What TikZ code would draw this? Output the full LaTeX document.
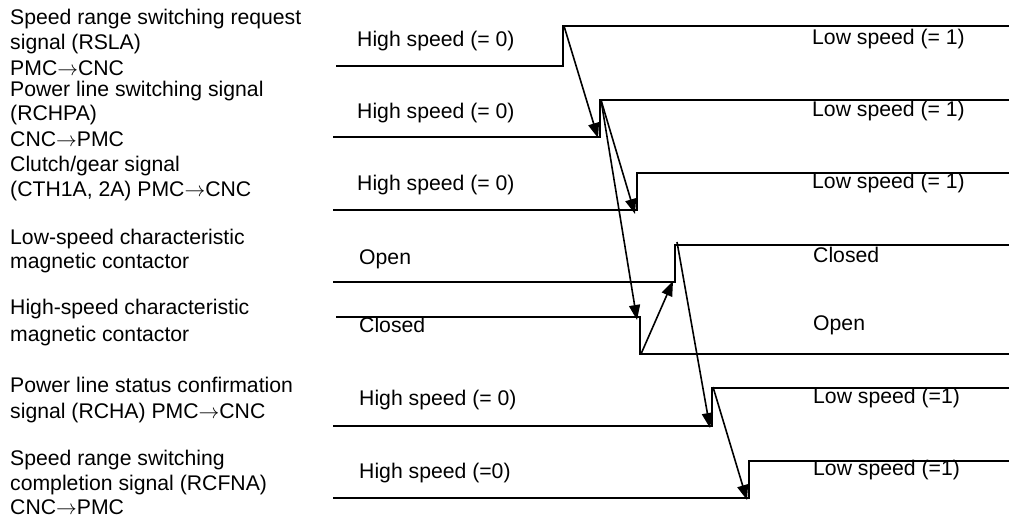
\documentclass[tikz,border=0pt]{standalone}
\usepackage{fontspec}
\setmainfont{Liberation Sans}
\usetikzlibrary{arrows.meta}
\newcommand{\dirarrow}{\ensuremath{\rightarrow}}
\begin{document}
\begin{tikzpicture}[x=1pt,y=-1pt,
  wave/.style={line width=2pt,line join=miter},
  cause/.style={line width=1.6pt,-{Triangle[length=15pt,width=11pt]}},
  txt/.style={anchor=base west,inner sep=0pt,font=\fontsize{21.2}{25}\selectfont}]
\useasboundingbox (0,0) rectangle (1009,518);
% waveform corners
\coordinate (b1) at (563,66); \coordinate (t1) at (563,26);
\coordinate (b2) at (600,137); \coordinate (t2) at (600,100);
\coordinate (b3) at (637,210); \coordinate (t3) at (637,173);
\coordinate (b4) at (675,282); \coordinate (t4) at (675,245);
\coordinate (h5) at (640,317); \coordinate (l5) at (640,354);
\coordinate (b6) at (712,426); \coordinate (t6) at (712,388);
\coordinate (b7) at (749,498); \coordinate (t7) at (749,461);
% waveforms
\draw[wave] (336,66) -- (b1) -- (t1) -- (1009,26);
\draw[wave] (333,137) -- (b2) -- (t2) -- (1009,100);
\draw[wave] (333,210) -- (b3) -- (t3) -- (1009,173);
\draw[wave] (333,282) -- (b4) -- (t4) -- (1009,245);
\draw[wave] (336,317) -- (h5) -- (l5) -- (1009,354);
\draw[wave] (333,426) -- (b6) -- (t6) -- (1009,388);
\draw[wave] (333,498) -- (b7) -- (t7) -- (1009,461);
% causal arrows
\draw[cause] ([xshift=1pt]t1) -- ([xshift=-2pt,yshift=-1pt]b2);
\draw[cause] ([xshift=1pt]t2) -- ([xshift=-2pt,yshift=-4pt]b3);
\draw[cause] ([xshift=1pt]t2) -- ([xshift=-3pt,yshift=-3pt]h5);
\draw[cause] ([xshift=1pt]l5) -- ([xshift=-2pt,yshift=1pt]b4);
\draw[cause] ([xshift=2pt,yshift=3pt]t4) -- ([xshift=-2pt,yshift=-2pt]b6);
\draw[cause] ([xshift=1pt,yshift=1pt]t6) -- ([xshift=-2pt,yshift=-2pt]b7);
% left signal names
\node[txt] (n1a) at (10,25) {Speed range switching request};
\node[txt] (n1b) at (10,50) {signal (RSLA)};
\node[txt] (n1c) at (10,76) {PMC\dirarrow CNC};
\node[txt] (n2a) at (10,97) {Power line switching signal};
\node[txt] (n2b) at (10,121) {(RCHPA)};
\node[txt] (n2c) at (10,147) {CNC\dirarrow PMC};
\node[txt] (n3a) at (10,172) {Clutch/gear signal};
\node[txt] (n3b) at (10,197) {(CTH1A, 2A) PMC\dirarrow CNC};
\node[txt] (n4a) at (10,245) {Low-speed characteristic};
\node[txt] (n4b) at (10,269) {magnetic contactor};
\node[txt] (n5a) at (10,315) {High-speed characteristic};
\node[txt] (n5b) at (10,342) {magnetic contactor};
\node[txt] (n6a) at (10,392) {Power line status confirmation};
\node[txt] (n6b) at (10,418) {signal (RCHA) PMC\dirarrow CNC};
\node[txt] (n7a) at (10,465) {Speed range switching};
\node[txt] (n7b) at (10,490) {completion signal (RCFNA)};
\node[txt] (n7c) at (10,514) {CNC\dirarrow PMC};
% state labels, before
\node[txt] (s1) at (357,47) {High speed (= 0)};
\node[txt] (s2) at (357,119) {High speed (= 0)};
\node[txt] (s3) at (357,191) {High speed (= 0)};
\node[txt] (s4) at (359,265) {Open};
\node[txt] (s5) at (359,333) {Closed};
\node[txt] (s6) at (359,406) {High speed (= 0)};
\node[txt] (s7) at (359,478) {High speed (=0)};
% state labels, after
\node[txt] (e1) at (812,45) {Low speed (= 1)};
\node[txt] (e2) at (812,117) {Low speed (= 1)};
\node[txt] (e3) at (812,189) {Low speed (= 1)};
\node[txt] (e4) at (813,263) {Closed};
\node[txt] (e5) at (813,331) {Open};
\node[txt] (e6) at (813,403) {Low speed (=1)};
\node[txt] (e7) at (813,475) {Low speed (=1)};
\end{tikzpicture}
\end{document}
